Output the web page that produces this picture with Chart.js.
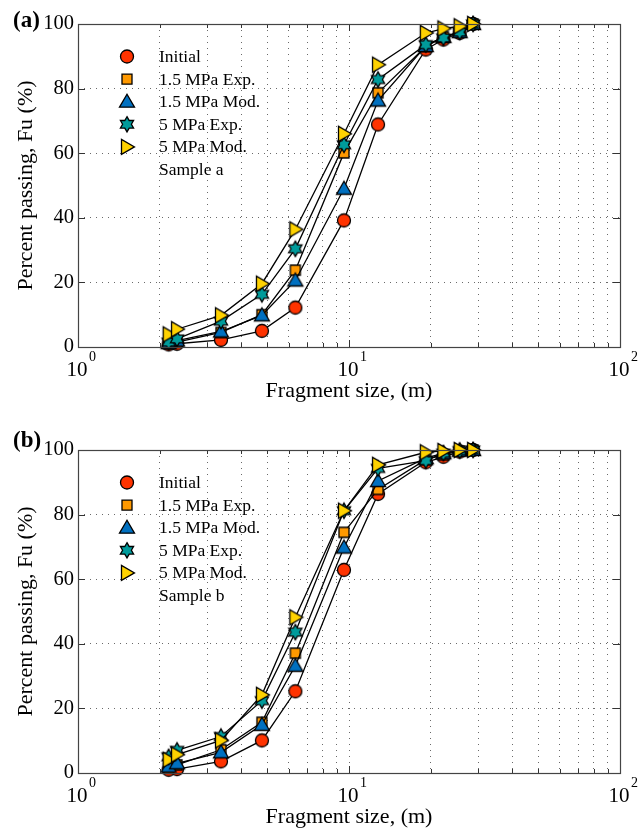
<!DOCTYPE html>
<html>
<head>
<meta charset="utf-8">
<title>Fragment size distribution</title>
<script src="https://cdn.jsdelivr.net/npm/chart.js@4.4.0/dist/chart.umd.min.js"></script>
<style>
  html, body { margin: 0; padding: 0; background: #fff; }
  #wrap { position: relative; width: 644px; height: 836px; }
  .panel { position: absolute; left: 0; width: 644px; }
</style>
</head>
<body>
<div id="wrap">
  <div class="panel" style="top:0;height:418px"><canvas id="chart-a" width="644" height="418"></canvas></div>
  <div class="panel" style="top:426px;height:410px"><canvas id="chart-b" width="644" height="410"></canvas></div>
</div>
<script>
// Fragment size (m) at each sieve, shared by every series.
const SIZES = [2.16, 2.32, 3.37, 4.77, 6.34, 9.58, 12.8, 19.2, 22.3, 25.6, 28.7];
const SERIES_NAMES = ["Initial", "1.5 MPa Exp.", "1.5 MPa Mod.", "5 MPa Exp.", "5 MPa Mod."];

// Sample a, percent passing
const A_INITIAL = [0.8, 1.0, 2.2, 5.0, 12.2, 39.2, 68.9, 92.1, 95.2, 97.2, 100];
const A_EXP15   = [1.0, 1.5, 4.5, 10.0, 23.8, 60.1, 78.7, 93.0, 96.0, 97.5, 100];
const A_MOD15   = [1.2, 2.0, 4.8, 9.8, 20.6, 49.0, 76.3, 93.2, 96.0, 97.5, 100];
const A_EXP5    = [1.5, 2.5, 8.0, 16.3, 30.4, 62.6, 82.8, 93.6, 95.7, 97.5, 100];
const A_MOD5    = [3.9, 5.5, 9.8, 19.6, 36.4, 66.0, 87.4, 97.2, 98.6, 99.3, 100];

// Sample b, percent passing
const B_INITIAL = [1.0, 1.2, 3.6, 10.1, 25.3, 62.9, 86.4, 96.2, 97.9, 99.5, 100];
const B_EXP15   = [1.5, 2.5, 7.2, 15.7, 37.1, 74.5, 87.8, 97.0, 98.5, 99.7, 100];
const B_MOD15   = [2.0, 3.0, 6.4, 14.9, 33.2, 69.8, 90.4, 97.5, 99.0, 99.8, 100];
const B_EXP5    = [5.0, 7.0, 11.3, 22.4, 43.6, 81.2, 94.3, 96.7, 99.0, 99.8, 100];
const B_MOD5    = [4.1, 5.7, 10.1, 24.2, 48.2, 81.2, 95.4, 99.3, 99.7, 100, 100];

// Axis ticks
const X_DECADES = [1, 10, 100];
const X_GRID = [1, 2, 3, 4, 5, 6, 7, 8, 9, 10, 20, 30, 40, 50, 60, 70, 80, 90, 100];
const Y_TICKS = [0, 20, 40, 60, 80, 100];

const SERIF = "'Liberation Serif', 'DejaVu Serif', serif";
const MARKERS = [
  { kind: "circle", color: "#ff3300" },
  { kind: "square", color: "#ff9900" },
  { kind: "up",     color: "#0070c0" },
  { kind: "hex",    color: "#009b9b" },
  { kind: "right",  color: "#ffd200" },
];

// --------------- Markers ---------------

function drawMarker(g, kind, color, x, y) {
  g.save();
  g.fillStyle = color;
  g.strokeStyle = "#000";
  g.lineWidth = 1.3;
  g.lineJoin = "miter";
  g.beginPath();
  if (kind === "circle") {
    g.arc(x, y, 6.5, 0, Math.PI * 2);
  } else if (kind === "square") {
    g.rect(x - 5, y - 5, 10, 10);
  } else if (kind === "up") {
    g.moveTo(x, y - 7.5); g.lineTo(x + 7.5, y + 5.5); g.lineTo(x - 7.5, y + 5.5); g.closePath();
  } else if (kind === "right") {
    g.moveTo(x + 7.5, y); g.lineTo(x - 5.5, y + 7.5); g.lineTo(x - 5.5, y - 7.5); g.closePath();
  } else if (kind === "hex") {
    for (let k = 0; k < 12; k++) {
      const r = k % 2 ? 4.4 : 7.6;
      const a = -Math.PI / 2 + k * Math.PI / 6;
      const px = x + r * Math.cos(a), py = y + r * Math.sin(a);
      if (k === 0) g.moveTo(px, py); else g.lineTo(px, py);
    }
    g.closePath();
  }
  g.fill();
  g.stroke();
  g.restore();
}

function markerCanvas(m) {
  const c = document.createElement("canvas");
  c.width = 20; c.height = 20;
  drawMarker(c.getContext("2d"), m.kind, m.color, 10, 10);
  return c;
}
const MARKER_IMGS = MARKERS.map(markerCanvas);

// --------------- Axes decoration (frame, inward ticks, labels, legend) ---------------

const matlabPlugin = {
  id: "matlab",
  afterDraw(chart, args, opts) {
    const { ctx, chartArea: a } = chart;
    const xs = chart.scales.x, ys = chart.scales.y;
    ctx.save();

    // inward ticks
    ctx.strokeStyle = "#333";
    ctx.lineWidth = 1;
    ctx.beginPath();
    for (const v of X_GRID) {
      const px = Math.round(xs.getPixelForValue(v)) + 0.5;
      const len = X_DECADES.includes(v) ? 7 : 4;
      ctx.moveTo(px, a.bottom); ctx.lineTo(px, a.bottom - len);
      ctx.moveTo(px, a.top); ctx.lineTo(px, a.top + len);
    }
    for (const v of Y_TICKS) {
      const py = Math.round(ys.getPixelForValue(v)) + 0.5;
      ctx.moveTo(a.left, py); ctx.lineTo(a.left + 7, py);
      ctx.moveTo(a.right, py); ctx.lineTo(a.right - 7, py);
    }
    ctx.stroke();

    // frame
    ctx.strokeStyle = "#444";
    ctx.lineWidth = 1.2;
    ctx.strokeRect(Math.round(a.left) + 0.5, Math.round(a.top) + 0.5,
                   Math.round(a.right - a.left), Math.round(a.bottom - a.top));

    // decade labels 10^n
    ctx.fillStyle = "#000";
    ctx.textBaseline = "middle";
    X_DECADES.forEach((v, n) => {
      const px = xs.getPixelForValue(v);
      ctx.font = "21px " + SERIF;
      ctx.textAlign = "center";
      ctx.fillText("10", px - 1, a.bottom + 23);
      ctx.font = "14px " + SERIF;
      ctx.textAlign = "left";
      ctx.fillText(String(n), px + 11, a.bottom + 10);
    });

    // panel letter
    ctx.font = "bold 23px " + SERIF;
    ctx.textAlign = "left";
    ctx.fillText(opts.letter, 13, opts.letterY);

    // legend (inside axes, no box)
    ctx.font = "17.5px " + SERIF;
    SERIES_NAMES.forEach((name, i) => {
      const y = a.top + 32.5 + i * 22.6;
      drawMarker(ctx, MARKERS[i].kind, MARKERS[i].color, 127, y);
      ctx.fillStyle = "#000";
      ctx.fillText(name, 159, y + 1);
    });
    ctx.fillText(opts.sample, 159, a.top + 32.5 + 5 * 22.6 + 1);

    ctx.restore();
  },
};

// --------------- Chart builder ---------------

function buildChart(canvasId, series, opts) {
  const datasets = series.map((vals, i) => ({
    label: SERIES_NAMES[i],
    data: SIZES.map((s, k) => ({ x: s, y: vals[k] })),
    borderColor: "#000",
    borderWidth: 1.3,
    pointStyle: MARKER_IMGS[i],
    pointRadius: 7,
    tension: 0,
    clip: false,
    order: series.length - i,   // last series drawn on top
  }));

  return new Chart(document.getElementById(canvasId), {
    type: "line",
    data: { datasets },
    plugins: [matlabPlugin],
    options: {
      responsive: false,
      animation: false,
      devicePixelRatio: 1,
      events: [],
      layout: { padding: { left: 0, top: 24, right: 24, bottom: 0 } },
      plugins: {
        legend: { display: false },
        tooltip: { enabled: false },
        matlab: { letter: opts.letter, letterY: opts.letterY, sample: opts.sample },
      },
      scales: {
        x: {
          type: "logarithmic",
          min: 1, max: 100,
          afterBuildTicks: s => { s.ticks = X_GRID.map(v => ({ value: v })); },
          afterFit: s => { s.height = opts.xAxisH; },
          ticks: { display: false },
          grid: { color: "#6a6a6a", lineWidth: 1, drawTicks: false },
          border: { display: false, dash: [1, 5] },
          title: {
            display: true, text: "Fragment size, (m)", color: "#000",
            font: { family: SERIF, size: 22 },
            padding: { top: 0, bottom: opts.xTitlePad },
          },
        },
        y: {
          min: 0, max: 100,
          afterBuildTicks: s => { s.ticks = Y_TICKS.map(v => ({ value: v })); },
          afterFit: s => { s.width = 78; },
          ticks: { color: "#000", padding: 4, font: { family: SERIF, size: 20.5 } },
          grid: { color: "#6a6a6a", lineWidth: 1, drawTicks: false },
          border: { display: false, dash: [1, 5] },
          title: {
            display: true, text: "Percent passing, Fu (%)", color: "#000",
            font: { family: SERIF, size: 22 },
            padding: { top: 13, bottom: 0 },
          },
        },
      },
    },
  });
}

buildChart("chart-a", [A_INITIAL, A_EXP15, A_MOD15, A_EXP5, A_MOD5],
  { letter: "(a)", letterY: 21, sample: "Sample a", xAxisH: 71, xTitlePad: 14 });
buildChart("chart-b", [B_INITIAL, B_EXP15, B_MOD15, B_EXP5, B_MOD5],
  { letter: "(b)", letterY: 15, sample: "Sample b", xAxisH: 63, xTitlePad: 6 });
</script>
</body>
</html>
